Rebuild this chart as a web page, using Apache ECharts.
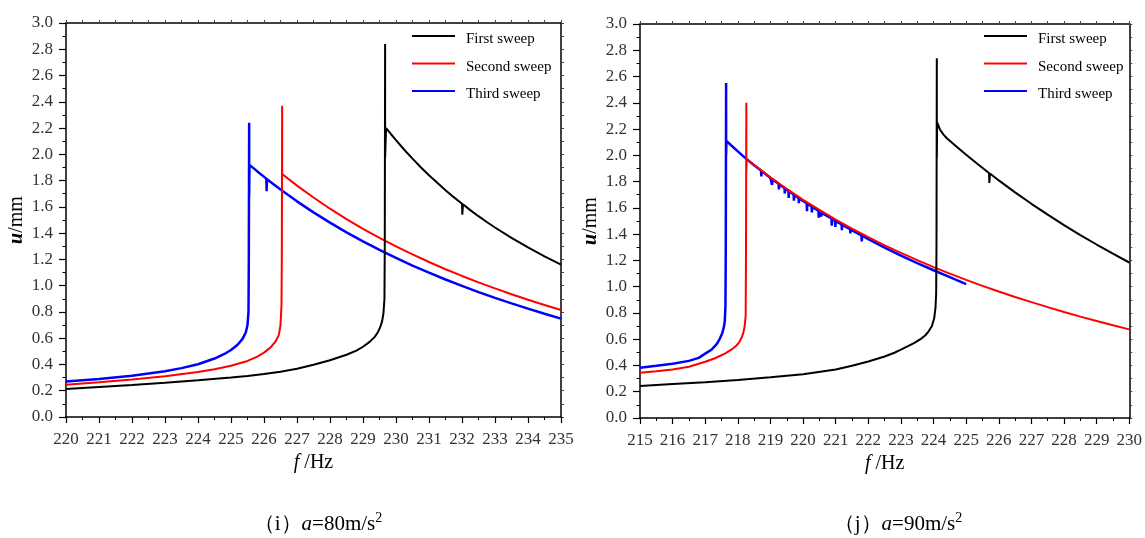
<!DOCTYPE html>
<html>
<head>
<meta charset="utf-8">
<script src="https://cdn.jsdelivr.net/npm/echarts@6/dist/echarts.min.js"></script>
<style>
  html, body { margin: 0; padding: 0; background: #fff; }
  #chart { width: 1145px; height: 538px; }
</style>
</head>
<body>
<div id="chart"></div>
<script>
// ---- (i) a = 80 m/s^2 : frequency f (Hz) vs amplitude u (mm) ----
const firstSweep80 = [
  [220, 0.214], [221, 0.229], [222, 0.244], [223, 0.261], [224, 0.28], [225, 0.3],
  [225.5, 0.313], [226, 0.328], [226.5, 0.345], [227, 0.368], [227.5, 0.398], [228, 0.432],
  [228.5, 0.474], [228.8, 0.505], [229, 0.535], [229.2, 0.572], [229.35, 0.608], [229.45, 0.645],
  [229.53, 0.69], [229.58, 0.73], [229.62, 0.79], [229.65, 0.9], [229.66, 1.3],
  [229.67, 2.84], [229.67, 1.97], [229.7, 2.2], [229.85, 2.153], [230, 2.108], [230.25, 2.035],
  [230.5, 1.967], [230.75, 1.902], [231, 1.841], [231.25, 1.783], [231.5, 1.727], [231.75, 1.674],
  [232, 1.624], [232.01, 1.54], [232.03, 1.62], [232.25, 1.575], [232.5, 1.529], [232.75, 1.485],
  [233, 1.443], [233.5, 1.364], [234, 1.291], [234.5, 1.223], [235, 1.161]
];
const secondSweep80 = [
  [220, 0.246], [221, 0.264], [222, 0.285], [223, 0.31], [224, 0.342], [224.5, 0.363],
  [225, 0.39], [225.5, 0.427], [225.8, 0.46], [226, 0.49], [226.2, 0.53], [226.35, 0.575],
  [226.45, 0.625], [226.5, 0.7], [226.53, 0.85], [226.54, 1.2],
  [226.55, 2.37], [226.55, 1.85], [227, 1.762], [227.5, 1.671], [228, 1.586], [228.5, 1.507],
  [229, 1.433], [229.5, 1.364], [230, 1.299], [230.5, 1.238], [231, 1.18], [231.5, 1.125],
  [232, 1.074], [232.5, 1.025], [233, 0.979], [233.5, 0.935], [234, 0.893], [234.5, 0.853], [235, 0.815]
];
const thirdSweep80 = [
  [220, 0.27], [221, 0.29], [222, 0.314], [223, 0.348], [223.5, 0.372], [224, 0.402],
  [224.5, 0.445], [224.8, 0.48], [225, 0.51], [225.2, 0.55], [225.35, 0.595], [225.45, 0.645],
  [225.5, 0.7], [225.53, 0.8], [225.54, 1.2],
  [225.55, 2.24], [225.55, 1.68], [225.56, 1.92], [225.8, 1.87], [226.07, 1.815], [226.08, 1.72],
  [226.09, 1.81], [226.5, 1.732], [227, 1.642], [227.5, 1.558], [228, 1.48], [228.5, 1.406],
  [229, 1.337], [229.5, 1.272], [230, 1.211], [230.5, 1.153], [231, 1.099], [231.5, 1.047],
  [232, 0.998], [232.5, 0.951], [233, 0.907], [233.5, 0.865], [234, 0.825], [234.5, 0.786], [235, 0.749]
];

// ---- (j) a = 90 m/s^2 ----
const firstSweep90 = [
  [215, 0.244], [216, 0.258], [217, 0.272], [218, 0.29], [219, 0.31], [220, 0.333],
  [221, 0.37], [221.5, 0.398], [222, 0.43], [222.5, 0.468], [222.8, 0.497], [223, 0.52],
  [223.2, 0.545], [223.4, 0.57], [223.6, 0.6], [223.75, 0.63], [223.85, 0.66], [223.95, 0.7],
  [224.02, 0.76], [224.06, 0.84], [224.08, 0.95], [224.09, 1.3],
  [224.1, 2.74], [224.1, 1.98], [224.11, 2.25], [224.2, 2.195], [224.3, 2.16], [224.4, 2.132],
  [224.7, 2.067], [225, 2.005], [225.35, 1.934], [225.7, 1.866], [225.71, 1.79], [225.73, 1.862],
  [226, 1.809], [226.5, 1.718], [227, 1.631], [227.5, 1.548], [228, 1.469], [228.5, 1.393],
  [229, 1.321], [229.5, 1.251], [230, 1.184]
];
const secondSweep90 = [
  [215, 0.345], [215.5, 0.356], [216, 0.37], [216.5, 0.39], [217, 0.428], [217.3, 0.455],
  [217.6, 0.49], [217.8, 0.52], [217.95, 0.55], [218.05, 0.58], [218.12, 0.615], [218.17, 0.65],
  [218.21, 0.7], [218.24, 0.78], [218.25, 1.3], [218.26, 2.4], [218.26, 1.876], [218.27, 1.971],
  [218.5, 1.926], [219, 1.832], [219.5, 1.744], [220, 1.661], [220.5, 1.584], [221, 1.511],
  [221.5, 1.442], [222, 1.377], [222.5, 1.315], [223, 1.257], [223.5, 1.202], [224, 1.149],
  [224.5, 1.099], [225, 1.052], [225.5, 1.006], [226, 0.963], [226.5, 0.921], [227, 0.882],
  [227.5, 0.844], [228, 0.807], [228.5, 0.772], [229, 0.739], [229.5, 0.706], [230, 0.675]
];
const thirdSweep90 = [
  [215, 0.383], [215.5, 0.397], [216, 0.413], [216.5, 0.435], [216.8, 0.458], [217, 0.49],
  [217.2, 0.522], [217.35, 0.562], [217.45, 0.605], [217.52, 0.645], [217.57, 0.69], [217.6, 0.74],
  [217.62, 0.85], [217.63, 1.3],
  [217.64, 2.55], [217.64, 2.0], [217.65, 2.11], [217.8, 2.075], [218, 2.03], [218.24, 1.977],
  [218.5, 1.925],
  [218.71, 1.884], [218.72, 1.84], [218.73, 1.88],
  [219, 1.828],
  [219.04, 1.821], [219.05, 1.775], [219.06, 1.817],
  [219.25, 1.783], [219.26, 1.74], [219.27, 1.779],
  [219.43, 1.751], [219.44, 1.71], [219.45, 1.747],
  [219.5, 1.738],
  [219.55, 1.73], [219.56, 1.675], [219.57, 1.726],
  [219.71, 1.702], [219.72, 1.655], [219.73, 1.698],
  [219.86, 1.676], [219.87, 1.635], [219.88, 1.672],
  [220, 1.652],
  [220.11, 1.635], [220.12, 1.575], [220.13, 1.631],
  [220.26, 1.611], [220.27, 1.565], [220.28, 1.607],
  [220.47, 1.578], [220.48, 1.525], [220.49, 1.574],
  [220.5, 1.573],
  [220.55, 1.566], [220.56, 1.535], [220.57, 1.562],
  [220.87, 1.519], [220.88, 1.465], [220.89, 1.515],
  [220.98, 1.502], [220.99, 1.455], [221, 1.499],
  [221.18, 1.474], [221.19, 1.43], [221.2, 1.471],
  [221.44, 1.438], [221.45, 1.405], [221.46, 1.434],
  [221.5, 1.429],
  [221.79, 1.39], [221.8, 1.345], [221.81, 1.388],
  [222, 1.362], [222.5, 1.298], [223, 1.236], [223.5, 1.179], [224, 1.125], [224.5, 1.072], [225, 1.02]
];

const seriesNames = ['First sweep', 'Second sweep', 'Third sweep'];
const seriesColors = ['#000000', '#ff0000', '#0000ff'];
const seriesWidths = [2, 2, 2.5];
const panelData = [
  [firstSweep80, secondSweep80, thirdSweep80],
  [firstSweep90, secondSweep90, thirdSweep90]
];
const xRanges = [[220, 235], [215, 230]];
const yRange = [0, 3.0];
const captions = ['（i）{i|a}=80m/s{sup|2}', '（j）{i|a}=90m/s{sup|2}'];

const serif = '"Liberation Serif", "Times New Roman", serif';
const tickFont = '"Liberation Serif", "DejaVu Serif", serif';

const grids = [
  { left: 66, top: 23, width: 495, height: 394 },
  { left: 640, top: 24, width: 492, height: 394 }
];

const xAxes = [], yAxes = [], series = [];
grids.forEach((g, gi) => {
  const [xmin, xmax] = xRanges[gi];
  // bottom frequency axis
  xAxes.push({
    type: 'value', gridIndex: gi, position: 'bottom', min: xmin, max: xmax, interval: 1,
    axisLine: { show: true, onZero: false, lineStyle: { color: '#000', width: 1.5 } },
    axisTick: { show: true, inside: false, length: 6, lineStyle: { color: '#000', width: 1.2 } },
    minorTick: { show: true, splitNumber: 2, length: 3, lineStyle: { color: '#000', width: 1 } },
    axisLabel: { show: true, margin: 14, color: '#333', fontFamily: tickFont, fontSize: 17 },
    splitLine: { show: false },
    name: '{i|f} /Hz', nameLocation: 'middle', nameGap: 33,
    nameTextStyle: {
      color: '#000', fontFamily: serif, fontSize: 20,
      rich: { i: { fontStyle: 'italic', fontFamily: serif, fontSize: 20, color: '#000' } }
    }
  });
  // top frame axis
  xAxes.push({
    type: 'value', gridIndex: gi, position: 'top', min: xmin, max: xmax, interval: 1,
    axisLine: { show: true, onZero: false, lineStyle: { color: '#000', width: 1.5 } },
    axisTick: { show: true, inside: false, length: 3, lineStyle: { color: '#444', width: 1 } },
    minorTick: { show: true, splitNumber: 2, length: 3, lineStyle: { color: '#444', width: 1 } },
    axisLabel: { show: false }, splitLine: { show: false }
  });
  // left amplitude axis
  yAxes.push({
    type: 'value', gridIndex: gi, position: 'left', min: yRange[0], max: yRange[1], interval: 0.2,
    axisLine: { show: true, onZero: false, lineStyle: { color: '#000', width: 1.5 } },
    axisTick: { show: true, inside: false, length: 7, lineStyle: { color: '#000', width: 1.2 } },
    minorTick: { show: true, splitNumber: 2, length: 3.5, lineStyle: { color: '#000', width: 1 } },
    axisLabel: {
      show: true, margin: 13, color: '#333', fontFamily: tickFont, fontSize: 17,
      formatter: v => v.toFixed(1)
    },
    splitLine: { show: false },
    name: '{i|u}/mm', nameLocation: 'middle', nameGap: 39, nameRotate: 90,
    nameTextStyle: {
      color: '#000', fontFamily: serif, fontSize: 20,
      rich: { i: { fontStyle: 'italic', fontWeight: 'bold', fontFamily: serif, fontSize: 20, color: '#000' } }
    }
  });
  // right frame axis
  yAxes.push({
    type: 'value', gridIndex: gi, position: 'right', min: yRange[0], max: yRange[1], interval: 0.2,
    axisLine: { show: true, onZero: false, lineStyle: { color: '#000', width: 1.5 } },
    axisTick: { show: true, inside: false, length: 3, lineStyle: { color: '#444', width: 1 } },
    minorTick: { show: true, splitNumber: 2, length: 3, lineStyle: { color: '#444', width: 1 } },
    axisLabel: { show: false }, splitLine: { show: false }
  });

  panelData[gi].forEach((data, si) => {
    series.push({
      name: seriesNames[si], type: 'line',
      xAxisIndex: gi * 2, yAxisIndex: gi * 2,
      data: data, symbol: 'none', smooth: false,
      lineStyle: { color: seriesColors[si], width: seriesWidths[si] },
      itemStyle: { color: seriesColors[si] },
      z: 3 - si
    });
  });
});

// legend text sits a few pixels below its line sample
const legendBase = {
  orient: 'vertical', top: 25, padding: 0, icon: 'rect',
  itemWidth: 43, itemHeight: 2, itemGap: 5.5,
  data: seriesNames, selectedMode: false,
  formatter: name => '{t|' + name + '}',
  textStyle: {
    color: '#000', fontFamily: serif, fontSize: 15,
    rich: { t: { color: '#000', fontFamily: serif, fontSize: 15, lineHeight: 16, padding: [7, 0, 0, 6] } }
  }
};

const option = {
  backgroundColor: '#ffffff',
  animation: false,
  grid: grids,
  xAxis: xAxes,
  yAxis: yAxes,
  legend: [
    Object.assign({}, legendBase, { left: 412 }),
    Object.assign({}, legendBase, { left: 984 })
  ],
  title: captions.map((txt, i) => ({
    text: txt,
    left: i === 0 ? 313 : 893,
    top: 506,
    textAlign: 'center',
    textStyle: {
      color: '#000', fontFamily: serif, fontSize: 21, fontWeight: 'normal', lineHeight: 26,
      rich: {
        i: { fontStyle: 'italic', fontFamily: serif, fontSize: 21, color: '#000', lineHeight: 26 },
        sup: { fontFamily: serif, fontSize: 14, color: '#000', verticalAlign: 'top', lineHeight: 26, padding: [0, 0, 10, 0] }
      }
    }
  })),
  series: series
};

const chart = echarts.init(document.getElementById('chart'), null, { renderer: 'canvas' });
chart.setOption(option);
</script>
</body>
</html>
